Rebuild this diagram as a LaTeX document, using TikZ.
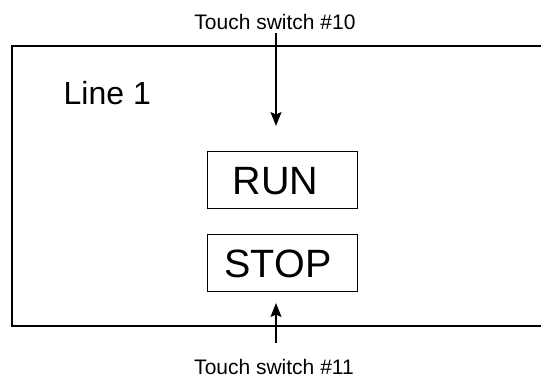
\documentclass[tikz,border=0pt]{standalone}
\usepackage{fontspec}
\setmainfont{Liberation Sans}
\usetikzlibrary{arrows.meta}
\begin{document}
\begin{tikzpicture}[x=1pt,y=-1pt,
  lbl/.style={inner sep=0pt, font=\fontsize{21}{24}\selectfont},
  bigbox/.style={draw, line width=1pt, inner ysep=0pt, align=left,
    text height=42.6pt, text depth=14pt, font=\fontsize{39.5}{44}\selectfont},
  arr/.style={line width=1.2pt, -{Stealth[length=14pt,width=11pt,inset=2.5pt]}}]
\useasboundingbox (0,0) rectangle (541,378);
\clip (0,0) rectangle (541,378);
\draw[line width=1.6pt] (12,45.7) rectangle (600,325.7);
\node[lbl, anchor=base] (ts10) at (275,29) {Touch switch \#10};
\node[lbl, anchor=base] (ts11) at (274,374.5) {Touch switch \#11};
\node[inner sep=0pt, anchor=base west, font=\fontsize{32}{36}\selectfont] (line) at (63.5,104) {Line 1};
\node[bigbox, anchor=base west, inner xsep=25.6pt, text width=99.1pt] (run) at (206.7,194.3) {RUN};
\node[bigbox, anchor=base west, inner xsep=17.3pt, text width=115.7pt] (stop) at (206.7,277.3) {STOP};
\coordinate (a1s) at (276,33);
\coordinate (a1e) at (276,126);
\coordinate (a2s) at (276,343);
\coordinate (a2e) at (276,303);
\draw[arr] (a1s) -- (a1e);
\draw[arr] (a2s) -- (a2e);
\end{tikzpicture}
\end{document}
